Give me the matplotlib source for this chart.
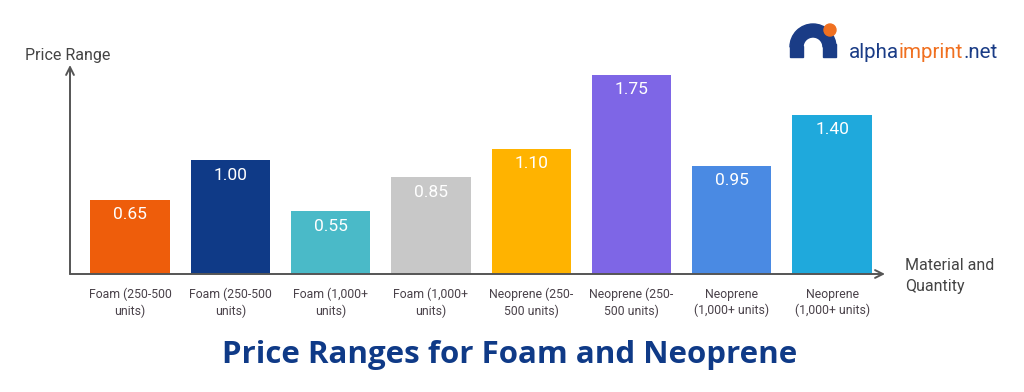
import numpy as np
import matplotlib
matplotlib.use('Agg')
import matplotlib.pyplot as plt
from matplotlib.patches import Wedge, Rectangle, Circle

plt.rcParams['font.family'] = ['Roboto', 'DejaVu Sans']

categories = ['Foam (250-500\nunits)', 'Foam (250-500\nunits)', 'Foam (1,000+\nunits)', 'Foam (1,000+\nunits)',
              'Neoprene (250-\n500 units)', 'Neoprene (250-\n500 units)', 'Neoprene\n(1,000+ units)', 'Neoprene\n(1,000+ units)']
prices = [0.65, 1.00, 0.55, 0.85, 1.10, 1.75, 0.95, 1.40]
colors = ['#EE5D0B', '#0F3A87', '#4ABAC8', '#C8C8C8', '#FFB300', '#7E66E6', '#4A8AE3', '#1FA9DC']

W, H = 1024, 392
fig = plt.figure(figsize=(W / 100, H / 100), dpi=100)

# main axes placed in pixel terms
left, right, bottom, top = 70, 885, 274, 65
ax = fig.add_axes([left / W, 1 - bottom / H, (right - left) / W, (bottom - top) / H])
px_per_bar = 100.3
px_per_unit = 113.7
x0 = -(130 - left) / px_per_bar
ax.set_xlim(x0, x0 + (right - left) / px_per_bar)
ax.set_ylim(0, (bottom - top) / px_per_unit)

x = np.arange(len(prices))
bars = ax.bar(x, prices, width=0.79, color=colors, zorder=2)
for xi, v in zip(x, prices):
    ax.text(xi, v - 0.065, f'{v:.2f}', ha='center', va='top', color='white', fontsize=12.5, zorder=3)

for s in ax.spines.values():
    s.set_visible(False)
ax.set_yticks([])
ax.set_xticks(x)
ax.set_xticklabels(categories, fontsize=8.8, color='#4a424a', linespacing=1.3)
ax.tick_params(axis='x', length=0, pad=10)

# axis arrows
ax.annotate('', xy=(0, 1.0), xycoords='axes fraction', xytext=(0, 0),
            arrowprops=dict(arrowstyle='->', color='#555555', lw=1.4, mutation_scale=14, shrinkA=0, shrinkB=0))
ax.annotate('', xy=(1.0, 0), xycoords='axes fraction', xytext=(0, 0),
            arrowprops=dict(arrowstyle='->', color='#555555', lw=1.4, mutation_scale=14, shrinkA=0, shrinkB=0))

# overlay in pixel coords for labels, title, logo
ov = fig.add_axes([0, 0, 1, 1], zorder=-1)
ov.set_xlim(0, W)
ov.set_ylim(H, 0)
ov.axis('off')

ov.text(25, 55, 'Price Range', fontsize=11.5, color='#444444', va='center', ha='left')
ov.text(905, 265, 'Material and', fontsize=11.5, color='#444444', va='center', ha='left')
ov.text(905, 286, 'Quantity', fontsize=11.5, color='#444444', va='center', ha='left')

ov.text(510, 355, 'Price Ranges for Foam and Neoprene', fontsize=22.5, fontweight='bold',
        color='#0F3A87', ha='center', va='center', family=['Open Sans', 'DejaVu Sans'])

# logo
navy = '#1A3C86'
orange = '#F07020'
ov.add_patch(Wedge((813, 47), 23, 180, 360, width=13, color=navy))
ov.add_patch(Rectangle((790, 46), 13, 11, color=navy))
ov.add_patch(Rectangle((823, 44), 13, 13, color=navy))
ov.add_patch(Circle((830, 30), 6, color=orange))

fig.canvas.draw()
r = fig.canvas.get_renderer()
xpos = 849
for part, c in [('alpha', navy), ('imprint', orange), ('.net', navy)]:
    t = ov.text(xpos, 52, part, fontsize=14.8, color=c, ha='left', va='center')
    bb = t.get_window_extent(renderer=r)
    xpos += bb.width

fig.savefig('out.png', dpi=100)
